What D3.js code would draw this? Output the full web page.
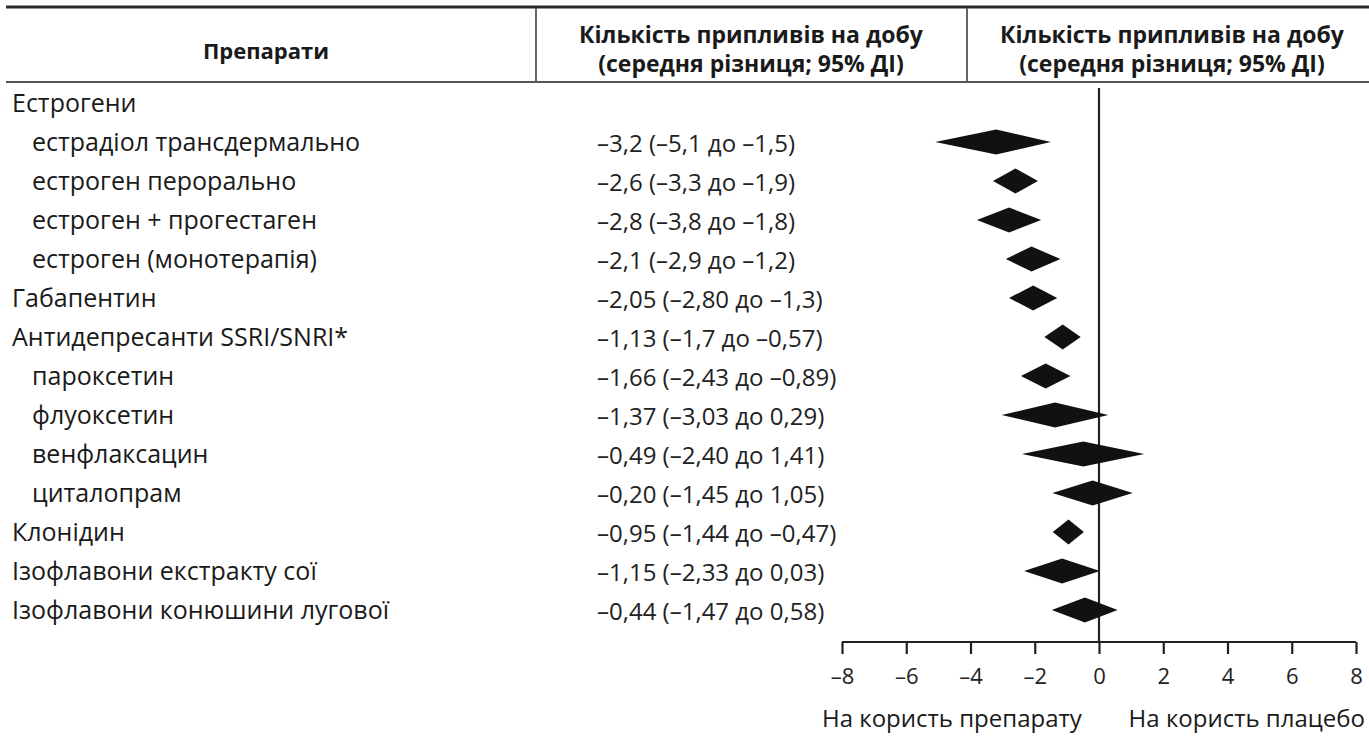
<!DOCTYPE html>
<meta charset="utf-8">
<style>
    body { margin: 0; background: #fff; }
    text { font-family: "Open Sans", sans-serif; fill: #1a1a1a; }
    .head { font-weight: bold; font-size: 23px; }
    .label { font-size: 25px; }
    .side { font-size: 24px; }
    .value { font-size: 24px; fill: #222; }
    .axis text { font-size: 22px; fill: #222; }
    .axis path, .axis line { stroke: #222; stroke-width: 2.2px; }
</style>

<svg width="1369" height="739"></svg>
<script src="https://d3js.org/d3.v7.min.js"></script>

<script>
    var svg = d3.select("svg"),
        width = +svg.attr("width"),
        height = +svg.attr("height");

    // rows of the table
    var drugs = ["Естрогени", "естрадіол трансдермально", "естроген перорально", "естроген + прогестаген",
        "естроген (монотерапія)", "Габапентин", "Антидепресанти SSRI/SNRI*", "пароксетин", "флуоксетин",
        "венфлаксацин", "циталопрам", "Клонідин", "Ізофлавони екстракту сої", "Ізофлавони конюшини лугової"];
    var subItem = [0, 1, 1, 1, 1, 0, 0, 1, 1, 1, 1, 0, 0, 0];
    var means = [null, -3.2, -2.6, -2.8, -2.1, -2.05, -1.13, -1.66, -1.37, -0.49, -0.20, -0.95, -1.15, -0.44];
    var lows  = [null, -5.1, -3.3, -3.8, -2.9, -2.80, -1.7, -2.43, -3.03, -2.40, -1.45, -1.44, -2.33, -1.47];
    var highs = [null, -1.5, -1.9, -1.8, -1.2, -1.3, -0.57, -0.89, 0.29, 1.41, 1.05, -0.47, 0.03, 0.58];
    var valueLabels = ["", "–3,2 (–5,1 до –1,5)", "–2,6 (–3,3 до –1,9)", "–2,8 (–3,8 до –1,8)", "–2,1 (–2,9 до –1,2)",
        "–2,05 (–2,80 до –1,3)", "–1,13 (–1,7 до –0,57)", "–1,66 (–2,43 до –0,89)", "–1,37 (–3,03 до 0,29)",
        "–0,49 (–2,40 до 1,41)", "–0,20 (–1,45 до 1,05)", "–0,95 (–1,44 до –0,47)", "–1,15 (–2,33 до 0,03)",
        "–0,44 (–1,47 до 0,58)"];
    var ticks = [-8, -6, -4, -2, 0, 2, 4, 6, 8];
    var headers = ["Препарати", "Кількість припливів на добу", "(середня різниця; 95% ДІ)"];
    var sides = ["На користь препарату", "На користь плацебо"];

    var rows = drugs.map(function (d, i) {
        return { name: d, sub: subItem[i], mean: means[i], lo: lows[i], hi: highs[i], txt: valueLabels[i] };
    });

    var x = d3.scaleLinear().domain([-8, 8]).range([842, 1356]);
    var y = d3.scaleLinear().domain([0, rows.length - 1]).range([112, 619]);
    var axisY = 642;

    // header lines
    svg.append("line").attr("x1", 6).attr("x2", width).attr("y1", 7).attr("y2", 7)
        .style("stroke", "#2a2a2a").style("stroke-width", 3);
    svg.append("line").attr("x1", 6).attr("x2", width).attr("y1", 82).attr("y2", 82)
        .style("stroke", "#555").style("stroke-width", 1.8);
    [536, 967].forEach(function (xx) {
        svg.append("line").attr("x1", xx).attr("x2", xx).attr("y1", 8).attr("y2", 82)
            .style("stroke", "#555").style("stroke-width", 1.8);
    });

    svg.append("text").attr("class", "head").attr("x", 266).attr("y", 59)
        .style("font-size", "22px").style("text-anchor", "middle").text(headers[0]);
    [751, 1172].forEach(function (cx) {
        svg.append("text").attr("class", "head").attr("x", cx).attr("y", 43)
            .style("text-anchor", "middle").text(headers[1]);
        svg.append("text").attr("class", "head").attr("x", cx).attr("y", 72)
            .style("text-anchor", "middle").text(headers[2]);
    });

    // names
    svg.selectAll(".label").data(rows).enter().append("text")
        .attr("class", "label")
        .attr("x", function (d) { return d.sub ? 32 : 12; })
        .attr("y", function (d, i) { return y(i); })
        .text(function (d) { return d.name; });

    // values
    svg.selectAll(".value").data(rows).enter().append("text")
        .attr("class", "value")
        .attr("x", 597)
        .attr("y", function (d, i) { return y(i) + 1; })
        .text(function (d) { return d.txt; });

    // zero line
    svg.append("line").attr("x1", x(0)).attr("x2", x(0)).attr("y1", 88).attr("y2", axisY)
        .style("stroke", "#222").style("stroke-width", 2.2);

    // diamonds
    svg.selectAll(".diamond").data(rows.filter(function (d) { return d.mean !== null; })).enter()
        .append("path")
        .attr("class", "diamond")
        .attr("d", function (d) {
            var yc = y(rows.indexOf(d)) - 9, h = 12.5;
            return "M" + x(d.lo) + "," + yc + "L" + x(d.mean) + "," + (yc - h) +
                "L" + x(d.hi) + "," + yc + "L" + x(d.mean) + "," + (yc + h) + "Z";
        })
        .style("fill", "#111");

    // axis
    var axis = svg.append("g").attr("class", "axis")
        .attr("transform", "translate(0," + axisY + ")")
        .call(d3.axisBottom(x).tickValues(ticks).tickSizeInner(12).tickSizeOuter(0).tickPadding(14)
            .tickFormat(function (d) { return d < 0 ? "–" + Math.abs(d) : d; }));
    axis.select(".domain").attr("d", "M" + x(-8) + ",0H" + x(8));
    axis.selectAll("text").attr("dy", "0.71em").style("font-family", "'Open Sans', sans-serif");

    svg.append("text").attr("class", "side").attr("x", 822).attr("y", 727).text(sides[0]);
    svg.append("text").attr("class", "side").attr("x", 1365).attr("y", 727)
        .style("text-anchor", "end").text(sides[1]);
</script>
